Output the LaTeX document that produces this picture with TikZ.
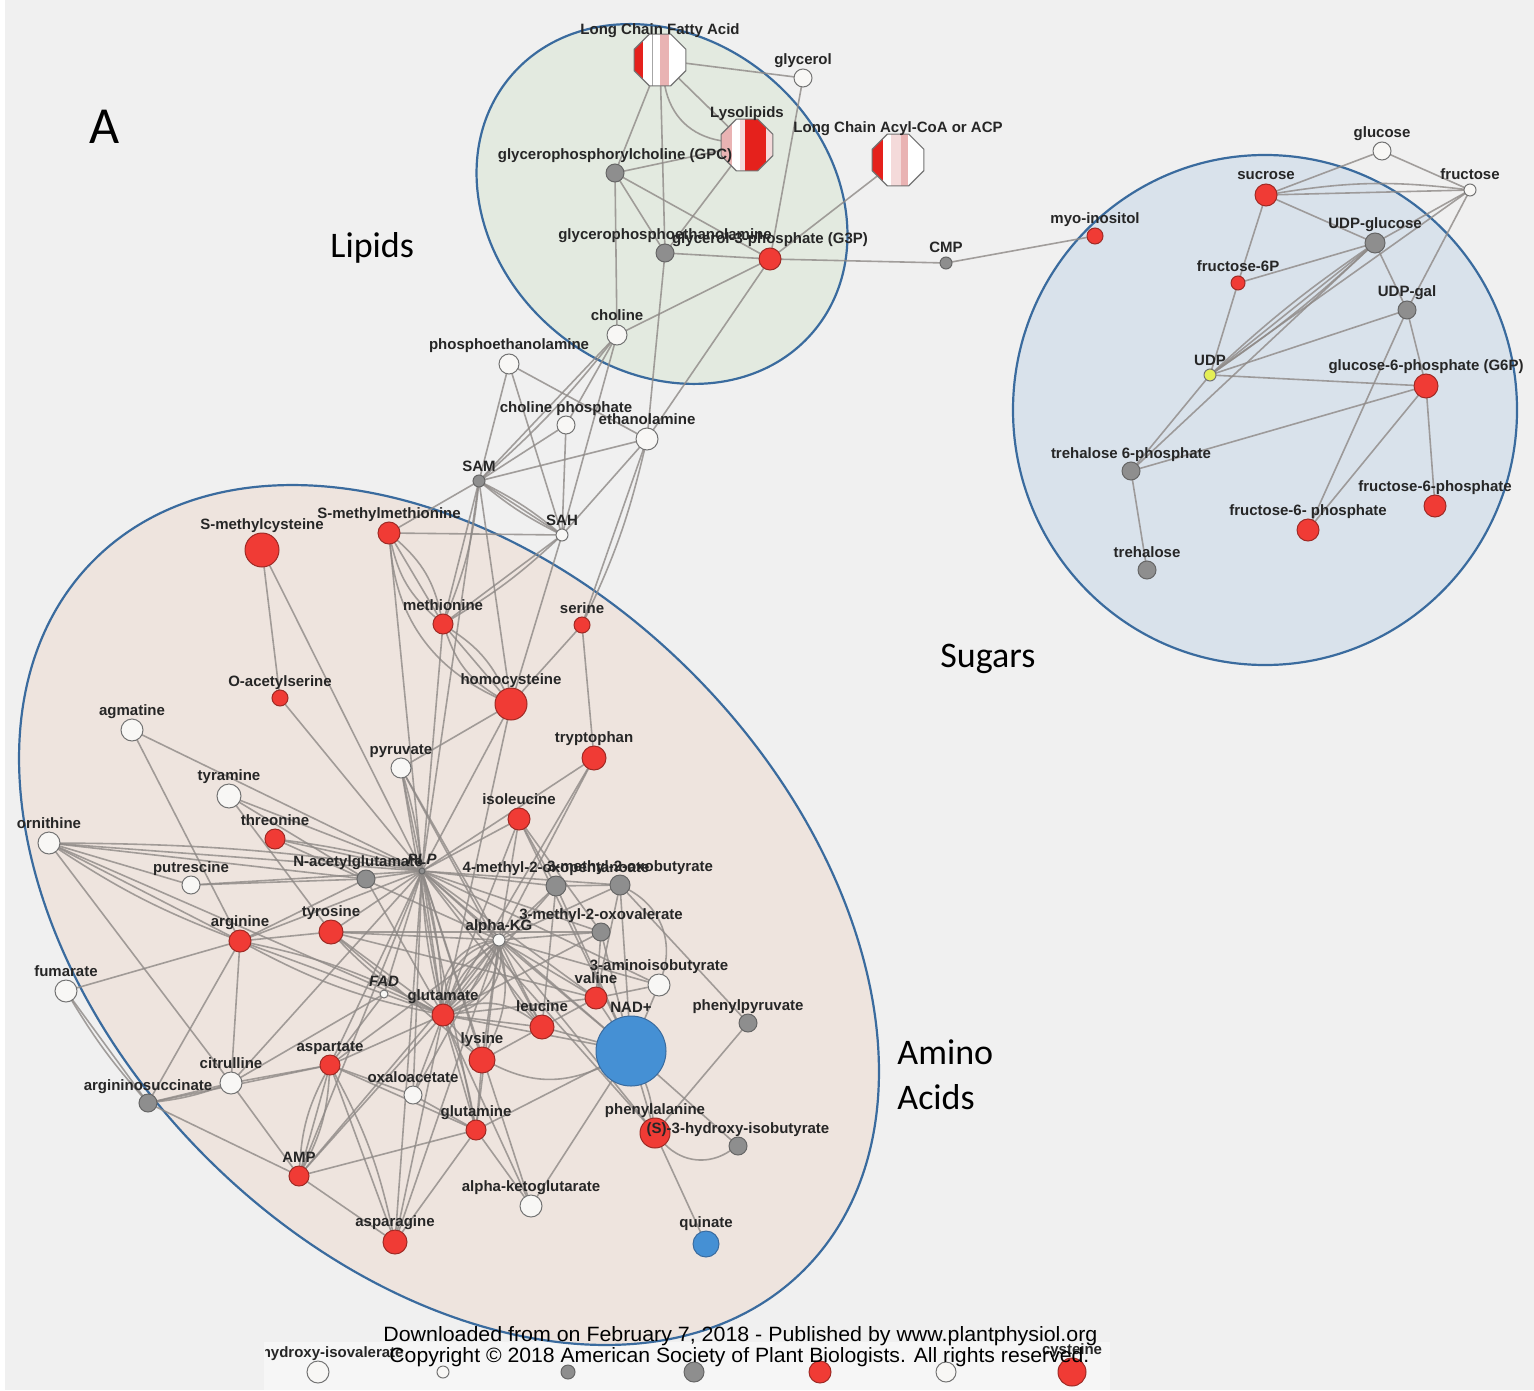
\documentclass[tikz,border=0pt]{standalone}
\usepackage{fontspec}
\setmainfont{Liberation Sans}
\newfontfamily\calfont{Carlito}
\usetikzlibrary{shapes.geometric,calc}
\pgfdeclarelayer{back}
\pgfdeclarelayer{edges}
\pgfsetlayers{back,edges,main}
\definecolor{bgc}{HTML}{F0F0F0}
\definecolor{lipfill}{HTML}{E3EAE0}
\definecolor{sugfill}{HTML}{D9E2EB}
\definecolor{aafill}{HTML}{EEE4DE}
\definecolor{ringc}{HTML}{3A6B9E}
\definecolor{redn}{HTML}{F03B35}
\definecolor{redd}{HTML}{9E2A25}
\definecolor{whn}{HTML}{F8F7F5}
\definecolor{grn}{HTML}{8E8E8E}
\definecolor{bluen}{HTML}{4590D4}
\definecolor{yeln}{HTML}{E4EE55}
\definecolor{edgec}{HTML}{8E8986}
\definecolor{lblc}{HTML}{262626}
\definecolor{stred}{HTML}{E5211C}
\definecolor{stpink}{HTML}{E9B3B3}
\definecolor{stlpink}{HTML}{F4DADA}
\newcommand\octstripe[3]{\fill[#3] ($(path picture bounding box.south west)!#1!(path picture bounding box.south east)$) rectangle ($(path picture bounding box.north west)!#2!(path picture bounding box.north east)$);}
\tikzset{
  mnode/.style={circle, inner sep=0pt, outer sep=0pt, line width=0.5pt},
  rn/.style={mnode, fill=redn, draw=redd, minimum size=#1pt},
  wn/.style={mnode, fill=whn, draw=black!55, minimum size=#1pt},
  gn/.style={mnode, fill=grn, draw=black!60, minimum size=#1pt},
  bn/.style={mnode, fill=bluen, draw=ringc, minimum size=#1pt},
  yn/.style={mnode, fill=yeln, draw=black!55, minimum size=#1pt},
  octn/.style={regular polygon, regular polygon sides=8, minimum size=28pt, inner sep=0pt, outer sep=0pt, draw=black!55, line width=0.6pt, fill=white},
  lbl/.style={font=\bfseries\fontsize{7.5}{8}\selectfont, text=lblc, inner sep=0pt, text height=5.4pt, text depth=1.6pt},
  every label/.style={lbl},
  label distance=0.2pt,
  lnk/.style={draw=edgec, line width=0.8pt, opacity=0.8},
  ring/.style={draw=ringc, line width=1.1pt},
  big/.style={font=\calfont\fontsize{18}{21}\selectfont, inner sep=0pt, anchor=west},
}
\newcommand\mn[5]{\node[#1=#2, label={above:#5}] (#3) at (#4) {};}
\begin{document}
\begin{tikzpicture}[x=0.5pt,y=-0.5pt]
\useasboundingbox (0,0) rectangle (1534,1390);
\begin{pgfonlayer}{back}
\fill[bgc] (0,0) rectangle (1534,1390);
\fill[white] (0,0) rectangle (5,1390);
\fill[white!40!bgc] (264,1342) rectangle (1110,1390);
\filldraw[ring, fill=lipfill, rotate around={-40:(662,204)}] (662,204) ellipse [x radius=198, y radius=166];
\filldraw[ring, fill=sugfill] (1265,410) ellipse [x radius=252, y radius=255];
\filldraw[ring, fill=aafill, rotate around={-45:(449,915)}] (449,915) ellipse [x radius=502, y radius=343];
\end{pgfonlayer}

% ---- region labels
\node[font=\calfont\fontsize{26}{30}\selectfont, inner sep=0pt] (lblA) at (105,127) {A};
\node[big] (lblLip) at (330,248) {Lipids};
\node[big] (lblSug) at (940,659) {Sugars};
\node[big] (lblAmA) at (897,1052) {Amino};
\node[big] (lblAmB) at (897,1097) {Acids};

% ---- lipids
\node[octn, label={[label distance=-2pt]above:Long Chain Fatty Acid}, path picture={\octstripe{0}{0.18}{stred}\octstripe{0.50}{0.68}{stpink}\draw[black!35, line width=0.4pt] ($(path picture bounding box.south west)!0.36!(path picture bounding box.south east)$) -- ($(path picture bounding box.north west)!0.36!(path picture bounding box.north east)$);}] (lcfa) at (660,60) {};
\node[octn, label={[label distance=-1pt]above:Lysolipids}, path picture={\octstripe{0}{0.21}{stpink}\octstripe{0.36}{0.46}{stlpink}\octstripe{0.46}{0.86}{stred}\octstripe{0.86}{1}{stlpink}}] (lyso) at (747,145) {};
\node[octn, label={[label distance=-1pt]above:Long Chain Acyl-CoA or ACP}, path picture={\octstripe{0}{0.21}{stred}\octstripe{0.37}{0.55}{stlpink}\octstripe{0.55}{0.69}{stpink}}] (lcacoa) at (898,160) {};
\mn{wn}{9}{glycerol}{803,78}{glycerol}
\mn{gn}{9}{gpc}{615,173}{glycerophosphorylcholine (GPC)}
\mn{gn}{9}{gpe}{665,253}{glycerophosphoethanolamine}
\mn{rn}{11}{g3p}{770,259}{glycerol-3-phosphate (G3P)}
\mn{gn}{6}{cmp}{946,263}{CMP}
\mn{rn}{8}{myo}{1095,236}{myo-inositol}
\mn{wn}{10}{choline}{617,335}{choline}
\mn{wn}{10}{pea}{509,364}{phosphoethanolamine}
\mn{wn}{9}{cp}{566,425}{choline phosphate}
\mn{wn}{11}{etn}{647,439}{ethanolamine}
\mn{gn}{6}{sam}{479,481}{SAM}
\mn{wn}{6}{sah}{562,535}{SAH}

% ---- sugars
\mn{wn}{9}{glc}{1382,151}{glucose}
\mn{wn}{6}{fru}{1470,190}{fructose}
\mn{rn}{11}{suc}{1266,195}{sucrose}
\mn{gn}{10}{udpg}{1375,243}{UDP-glucose}
\mn{rn}{7}{f6p}{1238,283}{fructose-6P}
\mn{gn}{9}{udpgal}{1407,310}{UDP-gal}
\mn{yn}{6}{udp}{1210,375}{UDP}
\mn{rn}{12}{g6p}{1426,386}{glucose-6-phosphate (G6P)}
\mn{gn}{9}{t6p}{1131,471}{trehalose 6-phosphate}
\mn{gn}{9}{tre}{1147,570}{trehalose}
\mn{rn}{11}{f6pa}{1308,530}{fructose-6- phosphate}
\mn{rn}{11}{f6pb}{1435,506}{fructose-6-phosphate}

% ---- amino acids
\mn{rn}{17}{smc}{262,550}{S-methylcysteine}
\mn{rn}{11}{smm}{389,533}{S-methylmethionine}
\mn{rn}{10}{met}{443,624}{methionine}
\mn{rn}{8}{ser}{582,625}{serine}
\mn{rn}{16}{hcy}{511,704}{homocysteine}
\mn{rn}{8}{oas}{280,698}{O-acetylserine}
\mn{wn}{11}{agm}{132,730}{agmatine}
\mn{wn}{10}{pyr}{401,768}{pyruvate}
\mn{rn}{12}{trp}{594,758}{tryptophan}
\mn{wn}{12}{tyra}{229,796}{tyramine}
\mn{rn}{11}{ile}{519,819}{isoleucine}
\mn{wn}{11}{orn}{49,843}{ornithine}
\mn{rn}{10}{thr}{275,839}{threonine}
\mn{wn}{9}{put}{191,885}{putrescine}
\node[gn=9, label={[xshift=-4pt]above:N-acetylglutamate}] (nag) at (366,879) {};
\node[gn=3, label={[font=\bfseries\itshape\fontsize{7.5}{8}\selectfont]above:PLP}] (plp) at (422,871) {};
\mn{gn}{10}{mop}{556,886}{4-methyl-2-oxopentanoate}
\node[gn=10, label={[xshift=5pt]above:3-methyl-2-oxobutyrate}] (mob) at (620,885) {};
\mn{gn}{9}{mov}{601,932}{3-methyl-2-oxovalerate}
\mn{wn}{6}{akg}{499,940}{alpha-KG}
\mn{rn}{12}{tyr}{331,932}{tyrosine}
\mn{rn}{11}{arg}{240,941}{arginine}
\mn{wn}{11}{fum}{66,991}{fumarate}
\node[wn=4, label={[font=\bfseries\itshape\fontsize{7.5}{8}\selectfont]above:FAD}] (fad) at (384,994) {};
\mn{wn}{11}{aib}{659,985}{3-aminoisobutyrate}
\mn{rn}{11}{val}{596,998}{valine}
\mn{bn}{35}{nad}{631,1051}{NAD+}
\mn{rn}{11}{glu}{443,1015}{glutamate}
\mn{rn}{12}{leu}{542,1027}{leucine}
\mn{gn}{9}{ppy}{748,1023}{phenylpyruvate}
\mn{rn}{13}{lys}{482,1060}{lysine}
\mn{rn}{10}{asp}{330,1065}{aspartate}
\mn{wn}{11}{cit}{231,1083}{citrulline}
\mn{gn}{9}{asa}{148,1103}{argininosuccinate}
\mn{wn}{9}{oaa}{413,1095}{oxaloacetate}
\mn{rn}{15}{phe}{655,1133}{phenylalanine}
\mn{gn}{9}{hib}{738,1146}{(S)-3-hydroxy-isobutyrate}
\mn{rn}{10}{gln}{476,1130}{glutamine}
\mn{rn}{10}{amp}{299,1176}{AMP}
\mn{wn}{11}{akga}{531,1206}{alpha-ketoglutarate}
\mn{rn}{12}{asn}{395,1242}{asparagine}
\mn{bn}{13}{qui}{706,1244}{quinate}

% ---- bottom row
\begin{scope}
\clip (265,1330) rectangle (1534,1390);
\node[wn=11, label={[xshift=4pt]above:3-hydroxy-isovalerate}] (b1) at (318,1372) {};
\end{scope}
\node[wn=6] (b2) at (443,1372) {};
\node[gn=7] (b3) at (568,1372) {};
\node[gn=10] (b4) at (694,1372) {};
\node[rn=11] (b5) at (820,1372) {};
\node[wn=10] (b6) at (946,1372) {};
\mn{rn}{14}{b7}{1072,1372}{cysteine}

% ---- edges
\begin{pgfonlayer}{edges}
\foreach \a/\b in {lcfa/glycerol,lcfa/lyso,lcfa/gpc,lcfa/gpe,glycerol/g3p,lyso/gpc,lyso/gpe,gpc/gpe,gpc/g3p,gpc/choline,gpe/g3p,gpe/etn,lcacoa/g3p,g3p/cmp,cmp/myo,g3p/choline,g3p/etn,
  choline/sam,choline/cp,choline/sah,pea/sam,pea/sah,pea/etn,cp/sam,cp/sah,etn/sam,etn/sah,etn/ser,sam/sah,sam/smm,sam/met,sam/hcy,sam/plp,sah/smm,sah/met,sah/hcy,
  glc/suc,glc/fru,suc/fru,suc/udpg,suc/f6p,fru/udpg,fru/udp,fru/udpgal,f6p/udpg,f6p/udp,udpg/udp,udpg/udpgal,udpg/t6p,udp/udpgal,udp/g6p,udp/t6p,g6p/t6p,g6p/f6pa,g6p/f6pb,udpgal/f6pa,udpgal/g6p,t6p/tre,
  smm/met,smm/plp,met/hcy,met/plp,hcy/pyr,hcy/plp,hcy/glu,ser/hcy,ser/trp,smc/oas,smc/plp,oas/plp,
  agm/plp,agm/arg,tyra/plp,tyra/tyr,tyra/nag,thr/plp,orn/plp,orn/nag,orn/put,orn/arg,orn/cit,orn/glu,put/plp,put/nag,nag/plp,nag/arg,nag/glu,
  pyr/plp,pyr/akg,pyr/glu,trp/plp,trp/akg,trp/glu,ile/plp,ile/mop,ile/mov,ile/akg,ile/nad,ile/glu,
  mop/plp,mop/leu,mop/nad,mop/akg,mop/glu,mob/plp,mob/val,mob/nad,mob/akg,mob/ppy,mob/mop,
  mov/plp,mov/nad,mov/akg,mov/val,mov/glu,akg/plp,akg/glu,akg/leu,akg/val,akg/lys,akg/asp,akg/tyr,akg/gln,akg/oaa,akg/nad,akg/aib,
  tyr/plp,tyr/glu,tyr/mov,arg/plp,arg/fum,arg/cit,arg/asa,arg/fad,arg/tyr,fum/asa,fad/plp,fad/glu,fad/cit,fad/asp,
  aib/plp,aib/val,aib/nad,val/plp,val/nad,val/glu,val/leu,nad/leu,nad/gln,nad/akga,nad/phe,nad/hib,nad/glu,
  glu/plp,glu/leu,glu/lys,glu/asp,glu/oaa,glu/gln,glu/akga,glu/amp,glu/asn,leu/plp,ppy/phe,lys/plp,lys/gln,
  asp/plp,asp/amp,asp/asn,asp/oaa,asp/cit,asp/asa,asp/gln,cit/asa,cit/amp,asa/amp,oaa/gln,oaa/plp,phe/qui,phe/akg,
  gln/asn,gln/akga,gln/amp,gln/plp,amp/asn,amp/plp,akga/plp,lys/leu,tyr/lys,thr/akg,pyr/leu,
  plp/nad,plp/phe,plp/cit,plp/asn,akg/asn,akg/amp,tyr/val}
  \draw[lnk] (\a) -- (\b);
\draw[lnk] (lcfa) to[bend right=35] (lyso);
\draw[lnk] (sam) to[bend left=6] (sah);
\draw[lnk] (sam) to[bend right=6] (sah);
\draw[lnk] (sam) to[bend left=8] (met);
\draw[lnk] (choline) to[bend left=5] (sam);
\draw[lnk] (etn) to[bend left=6] (ser);
\draw[lnk] (sah) to[bend left=6] (met);
\draw[lnk] (suc) to[bend left=8] (fru);
\draw[lnk] (udpg) to[bend left=4] (udp);
\draw[lnk] (udpg) to[bend right=4] (udp);
\draw[lnk] (smm) to[bend left=18] (met);
\draw[lnk] (smm) to[bend right=18] (met);
\draw[lnk] (smm) to[bend right=30] (hcy);
\draw[lnk] (met) to[bend left=15] (hcy);
\draw[lnk] (met) to[bend right=20] (hcy);
\draw[lnk] (akg) to[bend left=15] (glu);
\draw[lnk] (akg) to[bend right=15] (glu);
\draw[lnk] (akg) to[bend left=35] (glu);
\draw[lnk] (akg) to[bend right=35] (glu);
\draw[lnk] (akg) to[bend left=20] (lys);
\draw[lnk] (akg) to[bend right=20] (leu);
\draw[lnk] (glu) to[bend left=30] (leu);
\draw[lnk] (glu) to[bend left=6] (plp);
\draw[lnk] (glu) to[bend right=6] (plp);
\draw[lnk] (arg) to[bend left=8] (glu);
\draw[lnk] (arg) to[bend right=8] (glu);
\draw[lnk] (tyr) to[bend right=10] (glu);
\draw[lnk] (orn) to[bend left=4] (plp);
\draw[lnk] (orn) to[bend right=6] (arg);
\draw[lnk] (thr) to[bend left=5] (plp);
\draw[lnk] (pyr) to[bend left=5] (plp);
\draw[lnk] (fum) to[bend right=5] (asa);
\draw[lnk] (mob) to[bend left=40] (aib);
\draw[lnk] (nad) to[bend left=25] (lys);
\draw[lnk] (phe) to[bend right=40] (hib);
\draw[lnk] (asp) to[bend left=12] (amp);
\draw[lnk] (asp) to[bend right=12] (amp);
\draw[lnk] (asp) to[bend left=8] (asn);
\draw[lnk] (glu) to[bend left=6] (gln);
\draw[lnk] (cit) to[bend left=6] (asa);
\draw[lnk] (nad) to[bend left=8] (phe);
\draw[lnk] (akg) to[bend left=45] (glu);
\draw[lnk] (akg) to[bend right=45] (glu);
\end{pgfonlayer}

% ---- watermark
\node[anchor=base west, inner sep=0pt] (wm1) at (383,1341) {\resizebox{357pt}{7.5pt}{Downloaded from on February 7, 2018 - Published by www.plantphysiol.org}};
\node[anchor=base west, inner sep=0pt] (wm2) at (389,1362) {\resizebox{350pt}{7.5pt}{Copyright © 2018 American Society of Plant Biologists. All rights reserved.}};
\end{tikzpicture}
\end{document}
